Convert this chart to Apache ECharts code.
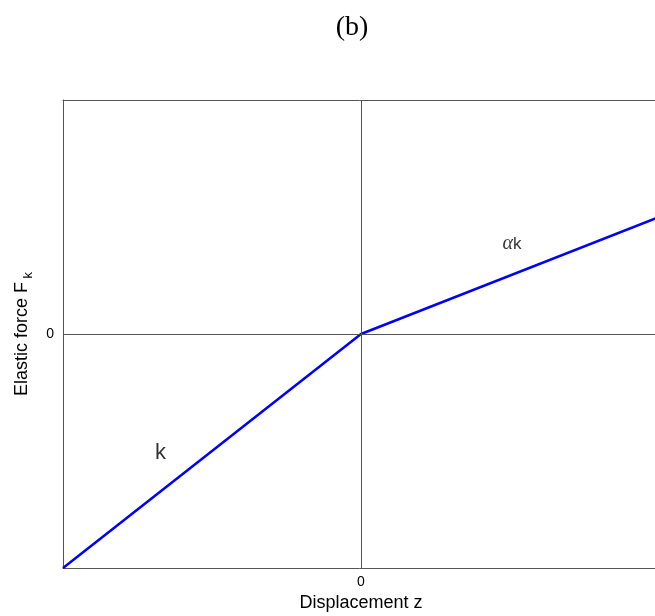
<!DOCTYPE html>
<html>
<head>
<meta charset="utf-8">
<script src="https://cdn.jsdelivr.net/npm/echarts@6/dist/echarts.min.js"></script>
<style>
  html, body { margin: 0; padding: 0; background: #fff; }
  #chart { width: 655px; height: 616px; }
</style>
</head>
<body>
<div id="chart"></div>
<script>
// Piecewise-linear spring: stiffness k for z < 0, alpha*k for z > 0
const displacement = [-1, 0, 1];
const force = [-1, 0, 0.5];

// Slope annotations, placed in data coordinates
const slopeLabels = ['{kb|k}', '{a|α}{k|k}'];
const slopeLabelX = [-0.673, 0.507];
const slopeLabelY = [-0.509, 0.385];

// Only the origin gets a tick label
const tickLabels = { '0': '0' };

const chart = echarts.init(document.getElementById('chart'));
const frame = { show: true, lineStyle: { color: '#555', width: 1 } };

chart.setOption({
  animation: false,
  backgroundColor: '#fff',
  title: {
    text: '(b)',
    left: 347, top: 9,
    textAlign: 'center',
    textStyle: { fontFamily: 'Liberation Serif', fontSize: 28, fontWeight: 'normal', color: '#000' }
  },
  grid: { left: 63, right: -4, top: 100, bottom: 48, containLabel: false, outerBoundsMode: 'none' },
  xAxis: [{
    type: 'value', min: -1, max: 1, interval: 1,
    axisLine: Object.assign({ onZero: false }, frame),
    axisTick: { show: false },
    splitLine: { show: false },
    axisLabel: {
      formatter: v => tickLabels[String(v)] || '',
      fontFamily: 'Liberation Sans', fontSize: 14, color: '#000', margin: 7
    },
    name: 'Displacement z',
    nameLocation: 'middle', nameGap: 22,
    nameTextStyle: { fontFamily: 'Liberation Sans', fontSize: 18, color: '#000' }
  }, {
    type: 'value', min: -1, max: 1, position: 'top',
    axisLine: Object.assign({ onZero: false }, frame),
    axisTick: { show: false }, axisLabel: { show: false }, splitLine: { show: false }
  }],
  yAxis: {
    type: 'value', min: -1, max: 1, interval: 1,
    axisLine: Object.assign({ onZero: false }, frame),
    axisTick: { show: false },
    splitLine: { show: false },
    axisLabel: {
      formatter: v => tickLabels[String(v)] || '',
      fontFamily: 'Liberation Sans', fontSize: 14, color: '#000', margin: 9
    },
    name: '{m|Elastic force F}{s| k}',
    nameLocation: 'middle', nameGap: 26,
    nameTextStyle: {
      rich: {
        m: { fontFamily: 'Liberation Sans', fontSize: 18, color: '#000' },
        s: { fontFamily: 'Liberation Sans', fontSize: 13, color: '#000', padding: [13, 0, 0, 0] }
      }
    }
  },
  series: [{
    type: 'line',
    data: displacement.map((z, i) => [z, force[i]]),
    showSymbol: false,
    lineStyle: { color: '#0000ff', width: 2.5 },
    markLine: {
      silent: true, symbol: 'none', label: { show: false },
      lineStyle: { color: '#555', width: 1, type: 'solid' },
      data: [{ xAxis: 0 }, { yAxis: 0 }]
    },
    z: 3
  }, {
    type: 'scatter',
    symbolSize: 0,
    data: slopeLabelX.map((x, i) => ({ value: [x, slopeLabelY[i]], name: slopeLabels[i] })),
    label: {
      show: true, position: 'inside', formatter: p => p.name,
      rich: {
        kb: { fontFamily: 'Liberation Sans', fontSize: 22, color: '#000' },
        a: { fontFamily: 'Liberation Serif', fontStyle: 'italic', fontSize: 20, color: '#000' },
        k: { fontFamily: 'Liberation Sans', fontSize: 17, color: '#000' }
      }
    }
  }]
});
</script>
</body>
</html>
